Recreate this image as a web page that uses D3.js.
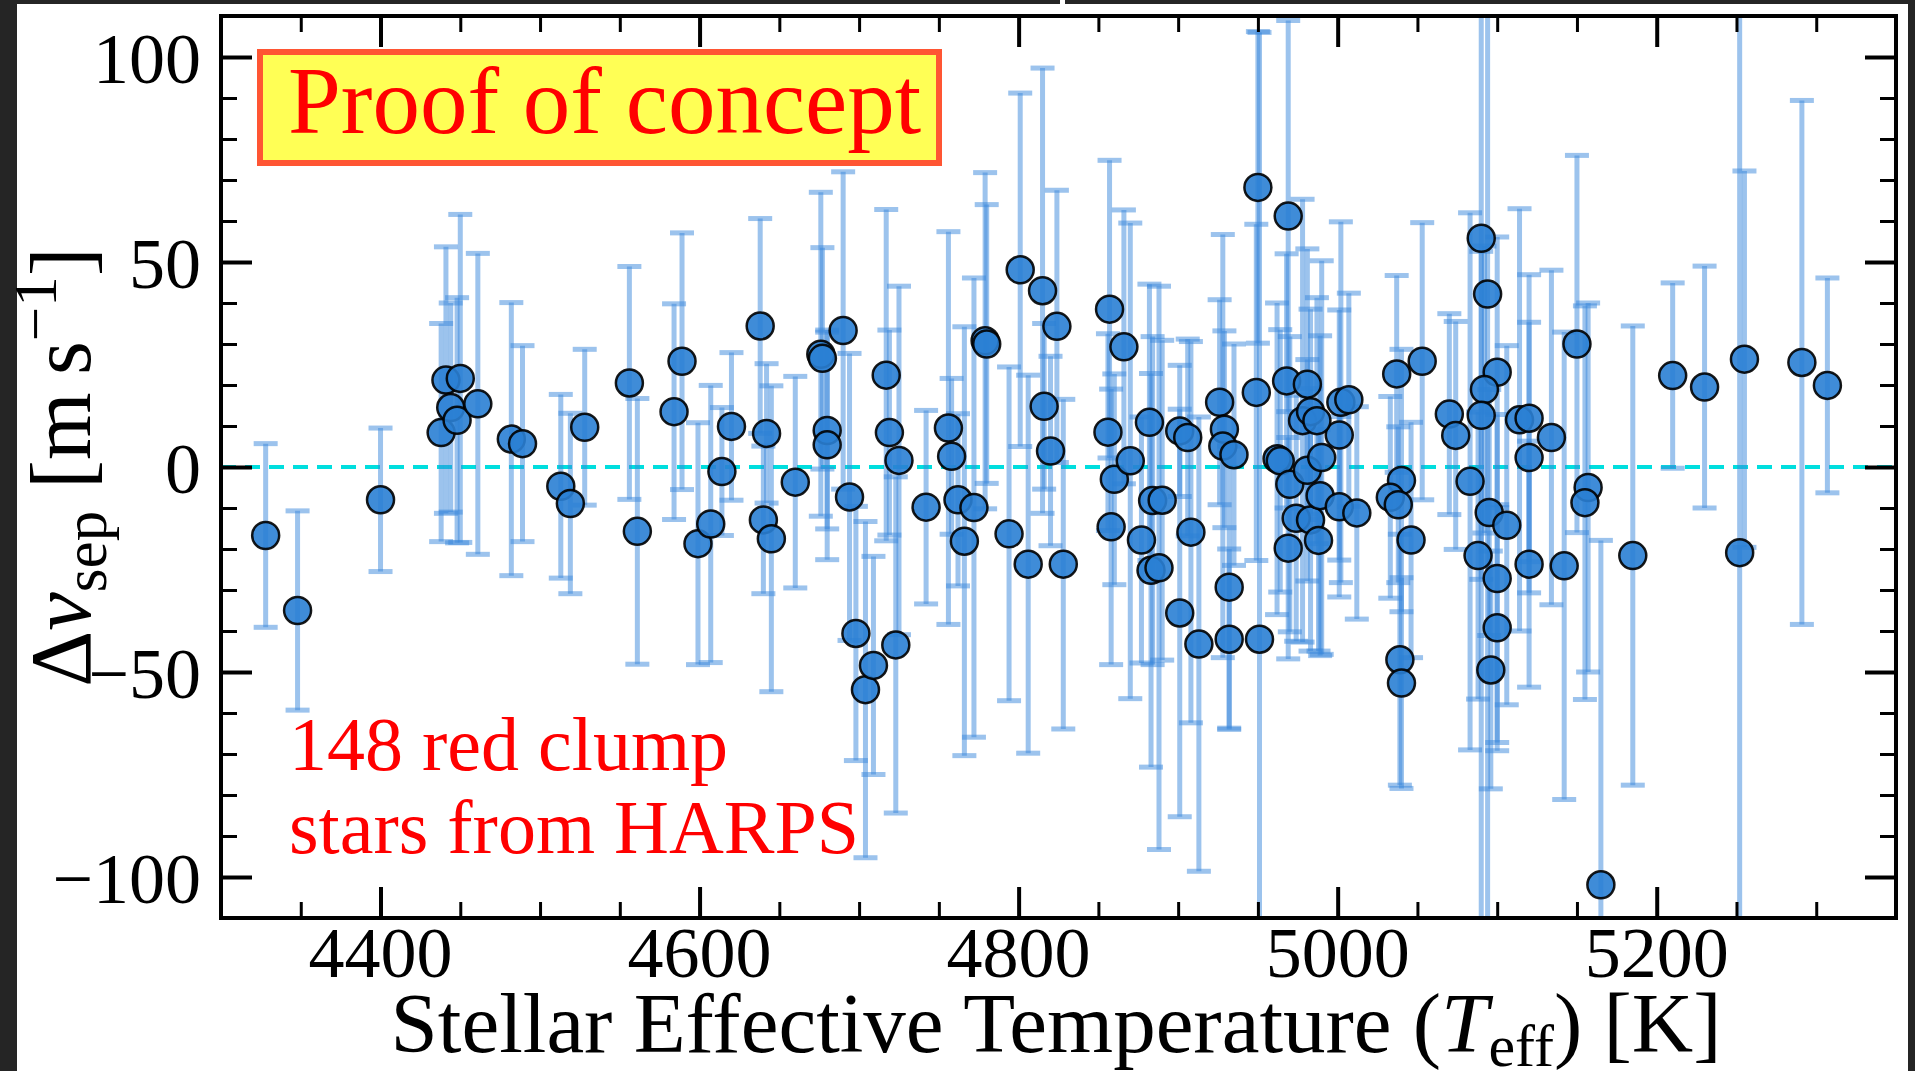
<!DOCTYPE html>
<html>
<head>
<meta charset="utf-8">
<script src="https://cdn.jsdelivr.net/npm/d3@7"></script>
<style>
  html, body { margin: 0; padding: 0; background: #252525; }
  svg { display: block; }
</style>
</head>
<body>
<div id="chart"></div>
<script>
// values
var teff = [4328,4348,4400,4438,4441,4444,4448,4450,4461,4482,4489,4513,4519,4528,4556,4561,4584,4589,4599,4607,
  4614,4620,4638,4642,4640,4645,4660,4676,4677,4680,4680,4690,4694,4698,4704,4709,4717,4719,4723,4725,
  4742,4756,4758,4762,4766,4772,4779,4780,4794,4801,4806,4815,4816,4820,4824,4828,4856,4857,4858,4860,
  4866,4870,4877,4882,4884,4883,4888,4890,4901,4906,4901,4908,4913,4926,4929,4928,4935,4932,4932,
  4950,4949,4951,4969,4968,4969,4962,4964,4970,4974,4978,4981,4983,4981,4983,4988,4990,4989,5002,5007,
  5001,5001,5012,4987,5037,5053,5040,5033,5038,5046,5039,5040,5070,5074,5083,5090,5094,5100,5092,5090,
  5095,5106,5088,5100,5100,5096,5114,5120,5120,5120,5134,5142,5150,5157,5155,5165,5185,5210,5230,5255,
  5252,5291,5307];
var dnu = [-16.7,-35,-8,8.4,21.2,14.5,11.4,21.6,15.4,6.8,5.7,-4.7,-8.9,9.7,20.5,-15.7,13.5,25.8,-18.7,-13.9,
  -1.1,9.9,34.4,8.2,-12.9,-17.5,-3.7,27.5,26.5,8.9,5.4,33.3,-7.3,-40.6,-54.3,-48.4,22.4,8.4,-43.4,1.6,
  -9.8,9.5,2.6,-8,-18.1,-9.9,30.8,30,-16.3,48.1,-23.7,43,14.8,3.9,34.3,-23.7,8.5,38.5,-14.6,-3,
  29.3,1.5,-17.8,10.9,-8.2,-25.2,-24.6,-8.1,8.8,7.2,-35.6,-15.9,-43.2,15.8,9.2,5.1,3,-29.3,-42,
  68.2,18.2,-42,61.2,21,-19.8,2,1.5,-4.2,-12.5,11.3,20.2,13.5,-0.8,-12.9,-17.9,2.3,-7,15.8,16.4,
  7.8,-9.7,-11.2,11.3,22.7,25.8,-3.3,-7.4,-9.2,-17.8,-47,-52.7,12.9,7.7,-3.5,55.8,42.2,23.1,18.9,12.6,
  -11.1,-14.2,-21.6,-27.2,-39.2,-49.5,11.5,11.9,2.3,-23.7,7.2,-24.1,30,-5,-8.7,-101.9,-21.6,22.3,19.5,26.3,
  -20.9,25.5,19.9];
var dnuErr = [22.4,24.3,17.5,26.6,32.5,25.5,29.9,40,36.7,33.3,23.9,22.4,22,19,28.4,32.4,26.3,31.3,29.5,33.8,
  15.6,18,26.2,17,18,37.3,25.8,39.5,27,24,28,38.7,35,31,41,26.6,40.4,25,41,42.5,
  23.6,47.9,19,21,52.3,56,41,34,40.7,43.1,46.1,54.3,20.2,23.1,33.2,40.2,24,36.3,33.6,25.7,
  33.4,58,30,33.7,40,48,68.7,39,16,24,49.7,46.5,55.4,25,24,51.6,27,34.4,22,
  38,41,148,47.7,31,27,38,32,36,30,54,33,25,27,32,27,48,39,44,26,
  30.5,22,25.9,30,24,33.8,32,24.6,19,28.7,30.6,25.7,24.5,27.8,65.5,170,160,33,35,40,
  30,43.8,35,40,30,29,51.5,35,33,30,40.8,57,46,45,48,84,56,22.6,29.5,45.9,
  145,63.9,26.2];

var xTicks = [4400, 4600, 4800, 5000, 5200];
var yTicks = [-100, -50, 0, 50, 100];
var yTickLabels = ['\u2212100', '\u221250', '0', '50', '100'];

var W = 1915, H = 1071;
var serif = '"Liberation Serif", "Times New Roman", serif';

var svg = d3.select('#chart').append('svg')
    .attr('width', W)
    .attr('height', H);

// dark slide background with the white figure on it
svg.append('rect').attr('width', W).attr('height', H).attr('fill', '#252525');
svg.append('rect').attr('x', 17).attr('y', 4).attr('width', 1891).attr('height', H - 4).attr('fill', '#fff');
svg.append('rect').attr('x', 1060).attr('y', 0).attr('width', 5).attr('height', 4).attr('fill', '#fff');

var pL = 221, pR = 1896, pT = 16, pB = 918;

var x = d3.scaleLinear().domain([4300, 5350]).range([pL, pR]);
var y = d3.scaleLinear().domain([-110, 110]).range([pB, pT]);

svg.append('clipPath').attr('id', 'plotclip')
  .append('rect')
    .attr('x', pL).attr('y', pT)
    .attr('width', pR - pL).attr('height', pB - pT);

var pts = teff.map(function(t, i) { return {t: t, v: dnu[i], e: dnuErr[i]}; });

// zero line
svg.append('line')
    .attr('x1', x(4300)).attr('x2', x(5350))
    .attr('y1', y(0)).attr('y2', y(0))
    .attr('stroke', '#00dede')
    .attr('stroke-width', 4)
    .attr('stroke-dasharray', '15,9');

// error bars
var eb = svg.append('g')
    .attr('clip-path', 'url(#plotclip)')
    .attr('stroke', '#3a88dc')
    .attr('stroke-opacity', 0.5)
    .attr('stroke-width', 5);

eb.selectAll('line.bar').data(pts).enter().append('line')
    .attr('class', 'bar')
    .attr('x1', function(d) { return x(d.t); })
    .attr('x2', function(d) { return x(d.t); })
    .attr('y1', function(d) { return y(d.v + d.e); })
    .attr('y2', function(d) { return y(d.v - d.e); });

[1, -1].forEach(function(s) {
  eb.selectAll('line.cap' + (s > 0 ? 'u' : 'd')).data(pts).enter().append('line')
      .attr('class', 'cap' + (s > 0 ? 'u' : 'd'))
      .attr('x1', function(d) { return x(d.t) - 12; })
      .attr('x2', function(d) { return x(d.t) + 12; })
      .attr('y1', function(d) { return y(d.v + s * d.e); })
      .attr('y2', function(d) { return y(d.v + s * d.e); });
});

// points
svg.append('g').selectAll('circle').data(pts).enter().append('circle')
    .attr('cx', function(d) { return x(d.t); })
    .attr('cy', function(d) { return y(d.v); })
    .attr('r', 13.5)
    .attr('fill', '#2a80d4')
    .attr('fill-opacity', 0.9)
    .attr('stroke', '#000')
    .attr('stroke-opacity', 0.9)
    .attr('stroke-width', 2.5);

// ticks on all four sides, pointing in
var xMinor = d3.range(4350, 5350, 50).filter(function(t) { return xTicks.indexOf(t) < 0; });
var yMinor = d3.range(-110, 111, 10).filter(function(v) { return yTicks.indexOf(v) < 0; });

function tickGroup(axis, transform, vals, size, width) {
  var g = svg.append('g')
      .attr('transform', transform)
      .call(axis.tickValues(vals).tickSize(-size).tickFormat(''));
  g.select('.domain').remove();
  g.selectAll('.tick line').attr('stroke', '#000').attr('stroke-width', width);
}
tickGroup(d3.axisBottom(x), 'translate(0,' + pB + ')', xTicks, 31, 4);
tickGroup(d3.axisBottom(x), 'translate(0,' + pB + ')', xMinor, 16, 3);
tickGroup(d3.axisTop(x), 'translate(0,' + pT + ')', xTicks, 31, 4);
tickGroup(d3.axisTop(x), 'translate(0,' + pT + ')', xMinor, 16, 3);
tickGroup(d3.axisLeft(y), 'translate(' + pL + ',0)', yTicks, 31, 4);
tickGroup(d3.axisLeft(y), 'translate(' + pL + ',0)', yMinor, 16, 3);
tickGroup(d3.axisRight(y), 'translate(' + pR + ',0)', yTicks, 31, 4);
tickGroup(d3.axisRight(y), 'translate(' + pR + ',0)', yMinor, 16, 3);

// frame
svg.append('rect')
    .attr('x', pL).attr('y', pT)
    .attr('width', pR - pL).attr('height', pB - pT)
    .attr('fill', 'none')
    .attr('stroke', '#000')
    .attr('stroke-width', 4);

// tick labels
svg.append('g').selectAll('text').data(xTicks).enter().append('text')
    .attr('x', function(d) { return x(d); })
    .attr('y', 977)
    .attr('text-anchor', 'middle')
    .style('font', '72px ' + serif)
    .text(function(d) { return d; });

svg.append('g').selectAll('text').data(yTicks).enter().append('text')
    .attr('x', 201)
    .attr('y', function(d) { return y(d) + 26; })
    .attr('text-anchor', 'end')
    .style('font', '72px ' + serif)
    .text(function(d, i) { return yTickLabels[i]; });

// axis titles
var xl = svg.append('text')
    .attr('x', 1056)
    .attr('y', 1052)
    .attr('text-anchor', 'middle')
    .style('font', '85px ' + serif);
xl.append('tspan').text('Stellar Effective Temperature (');
xl.append('tspan').attr('font-style', 'italic').text('T');
xl.append('tspan').attr('dy', 14).attr('font-size', '60px').text('eff');
xl.append('tspan').attr('dy', -14).text(') [K]');

var yl = svg.append('text')
    .attr('transform', 'translate(90,467) rotate(-90)')
    .attr('text-anchor', 'middle')
    .style('font', '87px ' + serif);
yl.append('tspan').text('\u0394');
yl.append('tspan').attr('font-style', 'italic').text('\u03bd');
yl.append('tspan').attr('dy', 16).attr('font-size', '61px').text('sep');
yl.append('tspan').attr('dy', -16).text(' [m\u2009s');
yl.append('tspan').attr('dy', -34).attr('font-size', '61px').text('\u22121');
yl.append('tspan').attr('dy', 34).text(']');

// annotations
svg.append('rect')
    .attr('x', 260).attr('y', 52)
    .attr('width', 679).attr('height', 111)
    .attr('fill', '#ffff55')
    .attr('stroke', '#ff5533')
    .attr('stroke-width', 6);

svg.append('text')
    .attr('x', 288)
    .attr('y', 133)
    .attr('fill', '#ff0000')
    .style('font', '95px ' + serif)
    .text('Proof of concept');

var note = svg.append('text')
    .attr('fill', '#ff0000')
    .style('font', '76px ' + serif);
note.append('tspan').attr('x', 289).attr('y', 770).text('148 red clump');
note.append('tspan').attr('x', 289).attr('y', 853).text('stars from HARPS');
</script>
</body>
</html>
